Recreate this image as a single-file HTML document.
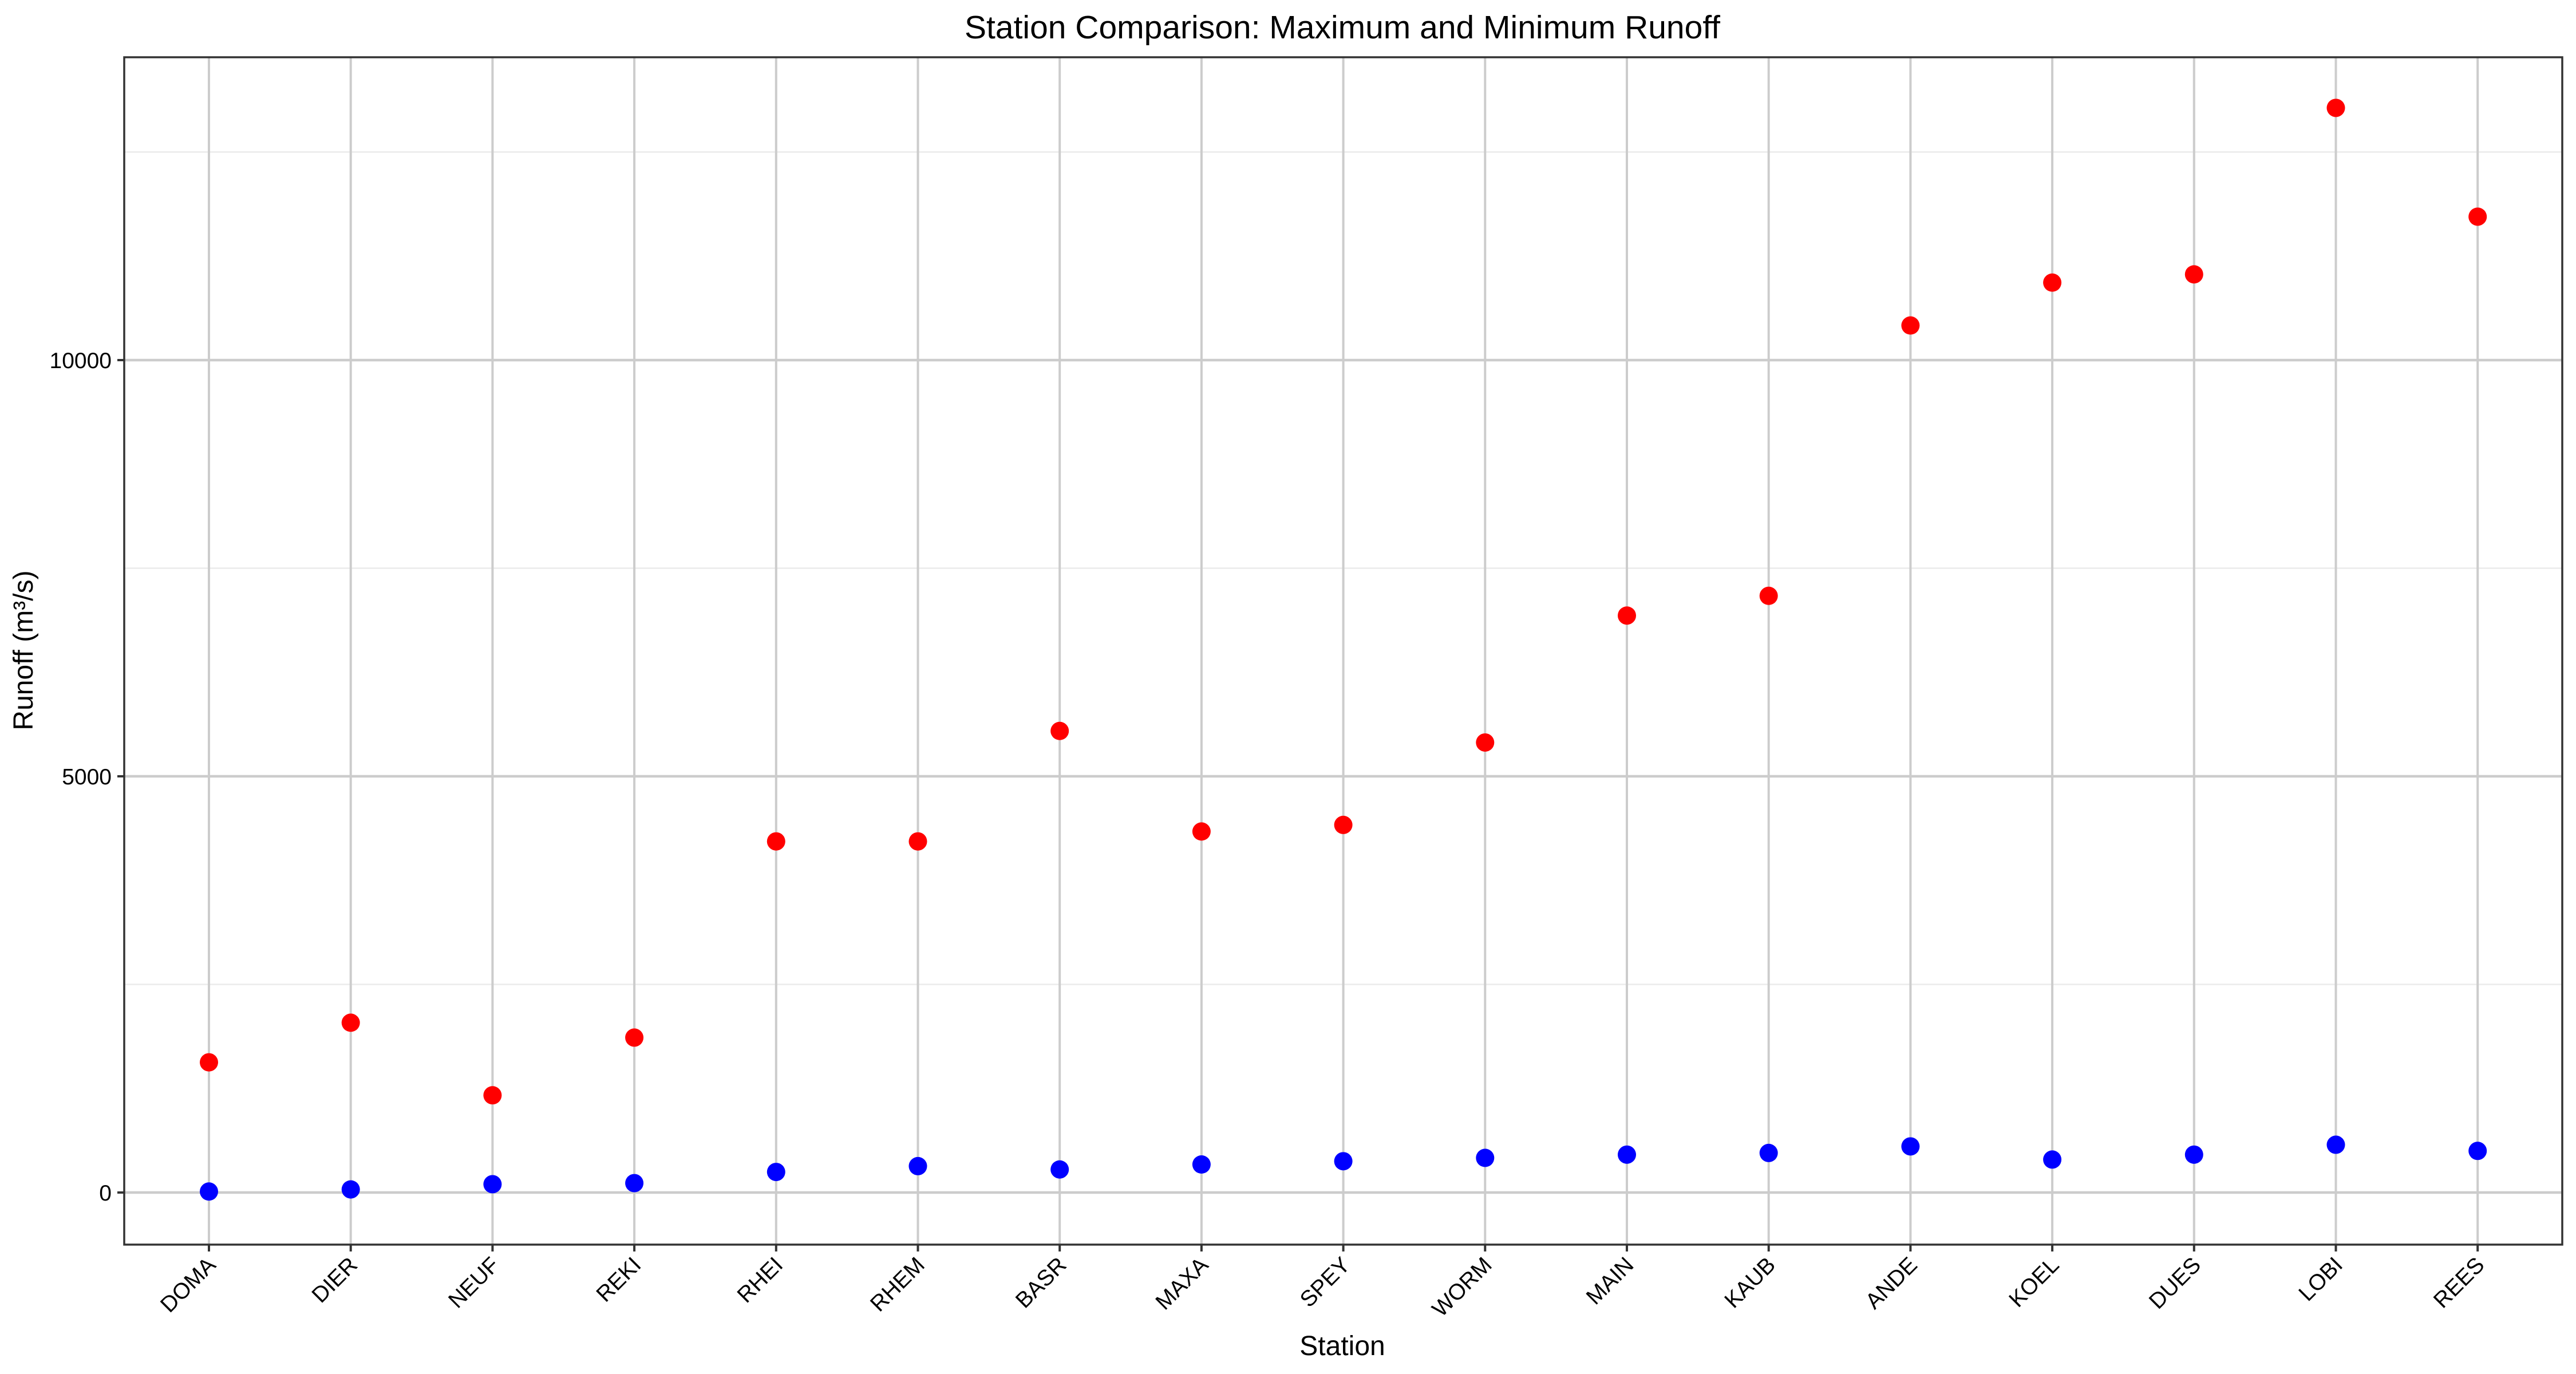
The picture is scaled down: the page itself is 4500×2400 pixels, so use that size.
<!DOCTYPE html>
<html><head><meta charset="utf-8"><style>
html,body{margin:0;padding:0;background:#fff;}
svg{display:block;font-family:"Liberation Sans",Arial,sans-serif;}
</style></head><body>
<svg id="chart" width="4500" height="2400" viewBox="0 0 4500 2400" xmlns="http://www.w3.org/2000/svg">
<rect width="4500" height="2400" fill="#fff"/>
<g id="grid"></g>
<g id="points"></g>
<g id="axes"></g>
<text x="2345" y="67" font-size="57" text-anchor="middle" fill="#000">Station Comparison: Maximum and Minimum Runoff</text>
<text x="2345" y="2367" font-size="48" text-anchor="middle" fill="#000">Station</text>
<text transform="translate(57,1136) rotate(-90)" font-size="48" text-anchor="middle" fill="#000">Runoff (m³/s)</text>
</svg>
<script>
const stations = ["DOMA","DIER","NEUF","REKI","RHEI","RHEM","BASR","MAXA","SPEY","WORM","MAIN","KAUB","ANDE","KOEL","DUES","LOBI","REES"];
const maxRunoff = [1564,2040,1168,1861,4218,4218,5545,4337,4416,5406,6931,7168,10416,10931,11030,13030,11723];
const minRunoff = [12,37,100,113,247,317,277,337,376,416,455,475,554,396,455,574,500];
const yTicks = [0,5000,10000];
const yMinor = [2500,7500,12500];

const NS="http://www.w3.org/2000/svg";
const L=217,R=4476,T=100,B=2174;
function xPos(i){return 365+i*247.7;}
function yPos(v){return 2083-v*(1454/10000);}
function mk(tag,attrs,parent){const e=document.createElementNS(NS,tag);for(const k in attrs)e.setAttribute(k,attrs[k]);parent.appendChild(e);return e;}
const grid=document.getElementById('grid'),pts=document.getElementById('points'),axes=document.getElementById('axes');

yMinor.forEach(v=>{
  const l=mk('line',{x1:L,x2:R,y1:yPos(v),y2:yPos(v),stroke:'#ebebeb','stroke-width':2.5},grid);
  
  
});
yTicks.forEach(v=>{
  const l=mk('line',{x1:L,x2:R,y1:yPos(v),y2:yPos(v),stroke:'#cccccc','stroke-width':4.5},grid);
  
  
  const t=mk('line',{x1:L-12,x2:L,y1:yPos(v),y2:yPos(v),stroke:'#333','stroke-width':4},axes);
  
  
  const tx=mk('text',{x:L-22,y:yPos(v)+14,'font-size':39,'text-anchor':'end',fill:'#000'},axes);
  tx.textContent=v;
  
  
});
stations.forEach((s,i)=>{
  const x=xPos(i);
  const g=mk('line',{x1:x,x2:x,y1:T,y2:B,stroke:'#cccccc','stroke-width':4},grid);
  
  
  const t=mk('line',{x1:x,x2:x,y1:B,y2:B+12,stroke:'#333','stroke-width':4},axes);
  
  
  const tx=mk('text',{transform:`translate(${x+14},${B+38}) rotate(-45)`,'font-size':39,'text-anchor':'end',fill:'#000'},axes);
  tx.textContent=s;
  
  
});
maxRunoff.forEach((v,i)=>{
  const c=mk('circle',{cx:xPos(i),cy:yPos(v),r:16,fill:'#ff0000'},pts);
  
  
});
minRunoff.forEach((v,i)=>{
  const c=mk('circle',{cx:xPos(i),cy:yPos(v),r:16,fill:'#0000ff'},pts);
  
  
});
const border=mk('rect',{x:L,y:T,width:R-L,height:B-T,fill:'none',stroke:'#333','stroke-width':3.5},axes);


</script>
</body></html>
